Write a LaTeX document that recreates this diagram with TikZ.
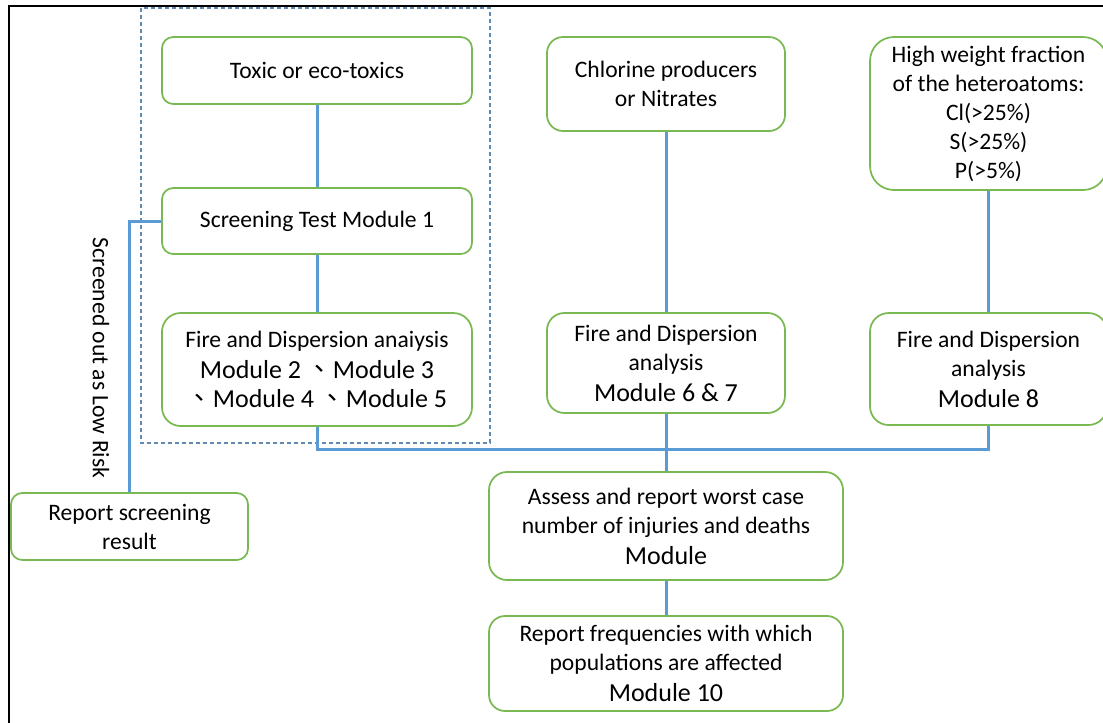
\documentclass[tikz,border=0pt]{standalone}
\usepackage{fontspec}
\setmainfont{Carlito}
\newfontfamily\cjk{Noto Sans CJK TC}
\definecolor{boxgreen}{RGB}{122,184,82}
\definecolor{linkblue}{RGB}{91,155,213}
\definecolor{dashblue}{RGB}{96,138,178}
\newcommand{\modline}[1]{{\fontsize{19.5}{23.25}\selectfont #1}}
\tikzset{
  stagebox/.style n args={3}{draw=boxgreen, line width=1.3pt, rounded corners=#3,
    minimum width=#1, minimum height=#2, inner sep=2pt, align=center,
    font=\fontsize{17.7}{21.75}\selectfont},
  link/.style={draw=linkblue, line width=2.25pt},
  groupbox/.style={draw=dashblue, line width=0.8pt, dash pattern=on 3pt off 2.25pt},
}

\begin{document}
\begin{tikzpicture}[x=0.75pt,y=-0.75pt]
  \useasboundingbox (0,0) rectangle (1103,722);
  \draw[line width=1.9pt] (9,6) rectangle (1115,735);
  \draw[groupbox] (141,8) rectangle (490,443);

  \node[stagebox={232.5pt}{50.25pt}{8.5pt}] (tox) at (317,70.5) {Toxic or eco-toxics};
  \node[stagebox={232.5pt}{49.5pt}{8.5pt}] (scr) at (317,221) {Screening Test Module 1};
  \node[stagebox={232.5pt}{84.75pt}{14pt}] (fire1) at (317,369.5)
    {Fire and Dispersion anaiysis\\[1.5pt]
     \modline{Module 2 {\cjk 、}Module 3}\\
     \modline{{\cjk 、}Module 4 {\cjk 、}Module 5}};

  \node[stagebox={178.5pt}{70.5pt}{12pt}] (chl) at (666,84) {Chlorine producers\\or Nitrates};
  \node[stagebox={178.5pt}{75pt}{13pt}] (fire2) at (666,363)
    {Fire and Dispersion\\analysis\\[1.5pt]\modline{Module 6 \& 7}};

  \node[stagebox={177.75pt}{114.75pt}{18pt}] (het) at (988.5,113.5)
    {High weight fraction\\of the heteroatoms:\\Cl(>25\%)\\S(>25\%)\\P(>5\%)};
  \node[stagebox={177.75pt}{84pt}{14pt}] (fire3) at (988.5,369)
    {Fire and Dispersion\\analysis\\[1.5pt]\modline{Module 8}};

  \node[stagebox={265.5pt}{81pt}{13.5pt}] (ass) at (666,526)
    {Assess and report worst case\\number of injuries and deaths\\[1.5pt]\modline{Module}};
  \node[stagebox={265.5pt}{71.25pt}{12pt}] (freq) at (666,663.5)
    {Report frequencies with which\\populations are affected\\[1.5pt]\modline{Module 10}};

  \node[stagebox={177.75pt}{50.25pt}{8.5pt}] (rep) at (129.5,526.5) {Report screening\\result};
  \node[rotate=-90, inner sep=0pt, font=\fontsize{17.7}{21.75}\selectfont] (lowrisk) at (101,358)
    {Screened out as Low Risk};

  \coordinate (busl) at (317,449);
  \coordinate (busr) at (988.5,449);

  \draw[link] (tox) -- (scr);
  \draw[link] (scr) -- (fire1);
  \draw[link] (scr.west) -| (rep.north);
  \draw[link] (chl) -- (fire2);
  \draw[link] (het) -- (fire3);
  \draw[link] (fire1.south) -- (busl) -- (busr) -- (fire3.south);
  \draw[link] (fire2) -- (ass);
  \draw[link] (ass) -- (freq);

\end{tikzpicture}
\end{document}
